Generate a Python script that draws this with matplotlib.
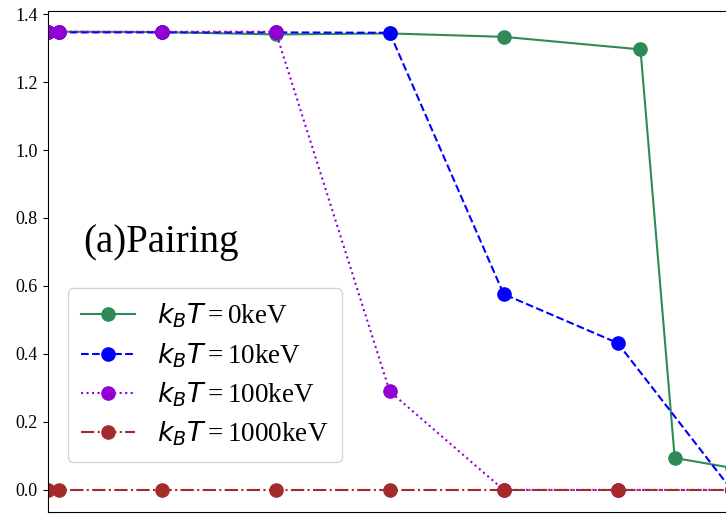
import matplotlib
matplotlib.use("Agg")
import matplotlib.pyplot as plt

plt.rcParams['font.family'] = ['Liberation Serif', 'DejaVu Serif']
plt.rcParams['mathtext.fontset'] = 'dejavusans'

# data
x_0keV = [0, 0.1, 1, 2, 3, 4, 5.2, 5.5, 6]
y_0keV = [1.348, 1.348, 1.347, 1.340, 1.343, 1.333, 1.296, 0.094, 0.065]
x_10keV = [0, 0.1, 1, 2, 3, 4, 5, 6]
y_10keV = [1.346, 1.346, 1.346, 1.346, 1.345, 0.576, 0.432, 0.0]
x_100keV = [0, 0.1, 1, 2, 3, 4, 5, 6]
y_100keV = [1.348, 1.348, 1.348, 1.348, 0.29, 0.0, 0.0, 0.0]
x_1000keV = [0, 0.1, 1, 2, 3, 4, 5, 6]
y_1000keV = [0.0, 0.0, 0.0, 0.0, 0.0, 0.0, 0.0, 0.0]
labels = [r'$k_BT\,$=$\,$0keV', r'$k_BT\,$=$\,$10keV',
          r'$k_BT\,$=$\,$100keV', r'$k_BT\,$=$\,$1000keV']

W, H = 726, 514
fig = plt.figure(figsize=(W/100, H/100), dpi=100)
left, right = 47.7, 47.7 + 114*7
bottom, top = 512, 11
ax = fig.add_axes([left/W, (H-bottom)/H, (right-left)/W, (bottom-top)/H])

ms = 9.5
ax.plot(x_0keV, y_0keV, '-', color='#2e8b57', marker='o', ms=ms, lw=1.5, label=labels[0])
ax.plot(x_10keV, y_10keV, '--', color='blue', marker='o', ms=ms, lw=1.5, label=labels[1])
ax.plot(x_100keV, y_100keV, ':', color='#9400d3', marker='o', ms=ms, lw=1.5, label=labels[2])
ax.plot(x_1000keV, y_1000keV, '-.', color='#a52a2a', marker='o', ms=ms, lw=1.5, label=labels[3])

ax.set_xlim(0, 7)
ax.set_ylim(-0.065, 1.409)
ax.set_yticks([0.0, 0.2, 0.4, 0.6, 0.8, 1.0, 1.2, 1.4])
ax.tick_params(axis='y', labelsize=13)
ax.tick_params(axis='x', labelbottom=False, length=0)

ax.text(0.31, 0.70, '(a)Pairing', fontsize=28, va='baseline', ha='left')

ax.legend(loc='lower left', bbox_to_anchor=(20/798, 50/501), borderaxespad=0,
          fontsize=19.5, handlelength=2, labelspacing=0.4, borderpad=0.5)

fig.savefig('out.png', dpi=100)
